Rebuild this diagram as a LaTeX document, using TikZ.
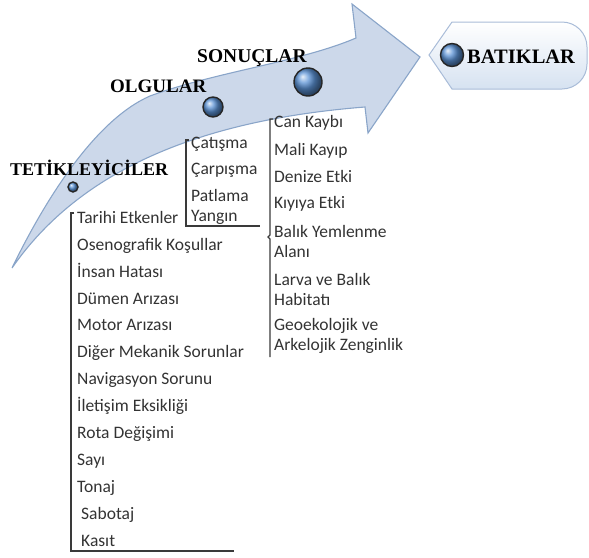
\documentclass[tikz,border=0pt]{standalone}
\usepackage{fontspec}
\setmainfont{Liberation Serif}
\newfontfamily\itemfont{Carlito}
\usetikzlibrary{calc}

\definecolor{bandfill}{HTML}{CCD8EA}
\definecolor{bandline}{HTML}{8AA5C9}
\definecolor{tagline}{HTML}{A9BCD8}
\definecolor{tagfill}{HTML}{D6E2F1}
\definecolor{balls}{HTML}{5C93D6}
\definecolor{itemtext}{HTML}{333333}
\definecolor{bracket}{HTML}{3A3A3A}

\begin{document}
\begin{tikzpicture}[x=1pt, y=-1pt,
  hdr/.style={anchor=base west, inner sep=0pt, text=black, font=\fontsize{19}{22}\selectfont\bfseries},
  item/.style={anchor=base west, inner sep=0pt, align=left, text=itemtext, font=\itemfont\fontsize{17.5}{20}\selectfont},
  dot/.style={circle, draw=black!85, line width=1.4pt, ball color=balls, inner sep=0pt, minimum size=#1},
  brk/.style={draw=bracket, line width=1.3pt}]

  \useasboundingbox (0,0) rectangle (589,557);

  % Curved arrow
  \draw[fill=bandfill, draw=bandline, line width=1.1pt]
    (12,268) .. controls (45,200) and (95,120) .. (150,96)
    .. controls (215,72) and (300,62) .. (356,38)
    -- (352,4) -- (420,57) -- (368,133) -- (365,107)
    .. controls (200,120) and (80,170) .. (12,268) -- cycle;

  % End tag
  \draw[top color=white, bottom color=tagfill, draw=tagline, line width=1pt]
    (429,55) -- (452,22) -- (562,22) arc[start angle=90, end angle=0, radius=25pt]
    -- (587,64) arc[start angle=0, end angle=-90, radius=25pt] -- (452,89) -- cycle;

  % Dots
  \node[dot=10pt] (dtetik) at (73,187) {};
  \node[dot=20pt] (dolgu) at (213,107) {};
  \node[dot=28pt] (dsonuc) at (308,82) {};
  \node[dot=23pt] (dbatik) at (452,55) {};

  % Headers
  \node[hdr, font=\fontsize{18}{22}\selectfont\bfseries] (tetik) at (10,175) {TETİKLEYİCİLER};
  \node[hdr] (olgu) at (110,92) {OLGULAR};
  \node[hdr, font=\fontsize{19.5}{22}\selectfont\bfseries] (sonuc) at (197,62) {SONUÇLAR};
  \node[hdr, font=\fontsize{20.5}{24}\selectfont\bfseries] (batik) at (467,63) {BATIKLAR};

  % Triggers
  \node[item] (t1) at (77,223) {Tarihi Etkenler};
  \node[item] (t2) at (77,250) {Osenografik Koşullar};
  \node[item] (t3) at (77,277) {İnsan Hatası};
  \node[item] (t4) at (77,304) {Dümen Arızası};
  \node[item] (t5) at (77,330) {Motor Arızası};
  \node[item] (t6) at (77,357) {Diğer Mekanik Sorunlar};
  \node[item] (t7) at (77,384) {Navigasyon Sorunu};
  \node[item] (t8) at (77,411) {İletişim Eksikliği};
  \node[item] (t9) at (77,438) {Rota Değişimi};
  \node[item] (t10) at (77,465) {Sayı};
  \node[item] (t11) at (77,492) {Tonaj};
  \node[item] (t12) at (81,519) {Sabotaj};
  \node[item] (t13) at (81,546) {Kasıt};

  % Facts
  \node[item] (o1) at (191,148) {Çatışma};
  \node[item] (o2) at (191,174) {Çarpışma};
  \node[item] (o3) at (191,221) {Patlama\\Yangın};

  % Results
  \node[item] (s1) at (274,127) {Can Kaybı};
  \node[item] (s2) at (274,155) {Mali Kayıp};
  \node[item] (s3) at (274,182) {Denize Etki};
  \node[item] (s4) at (274,208) {Kıyıya Etki};
  \node[item] (s5) at (274,257) {Balık Yemlenme\\Alanı};
  \node[item] (s6) at (274,305) {Larva ve Balık\\Habitatı};
  \node[item] (s7) at (274,350) {Geoekolojik ve\\Arkelojik Zenginlik};

  % Brackets
  \draw[brk] (74,213) -- (71,213) -- (71,551) -- (234,551);
  \draw[brk] (189,140) -- (186,140) -- (186,226) -- (260,226);
  \draw[brk] (273,119) -- (270,119) -- (270,235) -- (268,237) -- (270,239) -- (270,357);

\end{tikzpicture}
\end{document}
